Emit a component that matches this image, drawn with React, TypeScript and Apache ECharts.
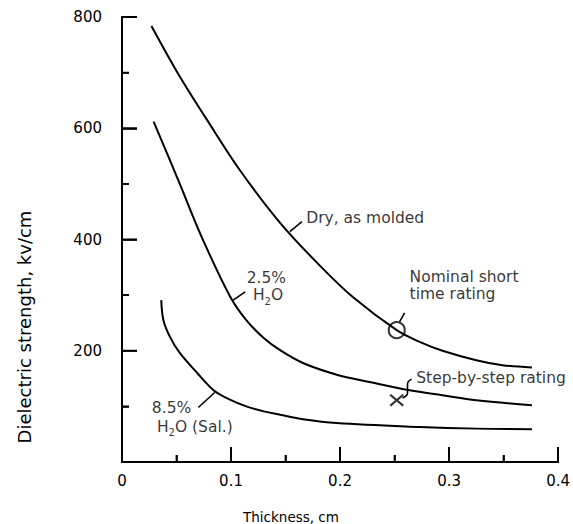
import React, { useEffect, useRef } from "react";
import * as echarts from "echarts";

// ---- data (thickness in cm, dielectric strength in kv/cm) ----
const dryX = [0.027, 0.053, 0.078, 0.108, 0.145, 0.181, 0.212, 0.252, 0.273, 0.294, 0.325, 0.349, 0.376];
const dryY = [784, 693, 615, 525, 430, 354, 296, 237, 216, 200, 183, 174, 170];

const h2o25X = [0.029, 0.053, 0.073, 0.099, 0.114, 0.13, 0.145, 0.166, 0.197, 0.227, 0.264, 0.294, 0.325, 0.376];
const h2o25Y = [612, 500, 405, 298, 255, 223, 201, 178, 157, 144, 129, 120, 111, 102];

const h2o85X = [0.036, 0.038, 0.044, 0.053, 0.069, 0.084, 0.099, 0.114, 0.13, 0.145, 0.166, 0.197, 0.273, 0.325, 0.376];
const h2o85Y = [291, 255, 225, 196, 160, 129, 112, 100, 91, 85, 77, 70, 63, 60, 59];

const nominalPoint = [0.252, 237];
const stepPoint = [0.252, 111];

const xMin = 0, xMax = 0.4, xStep = 0.1;
const yMin = 0, yMax = 800, yStep = 200;
const xTicks = [0, 0.05, 0.1, 0.15, 0.2, 0.25, 0.3, 0.35, 0.4];
const yTicks = [0, 100, 200, 300, 400, 500, 600, 700, 800];

// annotation texts anchored (left, middle) at data coordinates
const annotationTexts = [
  "Dry, as molded",
  "2.5%",
  "H{s|2}O",
  "8.5%",
  "H{s|2}O (Sal.)",
  "Nominal short",
  "time rating",
  "Step-by-step rating",
];
const annotationX = [0.169, 0.1144, 0.1201, 0.0274, 0.032, 0.2638, 0.2638, 0.2699];
const annotationY = [439, 331, 300, 97, 63, 333, 302, 151];

// leader lines (data coordinates)
const dryLeader = [[0.154, 414], [0.165, 432]];
const h2o25Leader = [[0.102, 291], [0.113, 306]];
const h2o85Leader = [[0.07, 98], [0.085, 125]];
const nominalLeader = [[0.2546, 252], [0.2592, 268]];
const stepLeader = [[0.2573, 115], [0.2619, 124], [0.2619, 140], [0.2656, 149]];

const FONT = "DejaVu Sans";
const black = "#000";
const W = 573;
const H = 524;
const GRID = { left: 122, right: 14, top: 17, bottom: 62 };

const pairs = (xs: number[], ys: number[]) => xs.map((x, i) => [x, ys[i]]);

export default function App() {
  const ref = useRef<HTMLDivElement>(null);

  useEffect(() => {
    const chart = echarts.init(ref.current!, null, { renderer: "svg" });

    const curve = (name: string, data: number[][]) => ({
      type: "line",
      name,
      data,
      smooth: 0.35,
      symbol: "none",
      lineStyle: { color: black, width: 2 },
      silent: true,
    });
    const leader = (data: number[][], smooth = false) => ({
      type: "line",
      data,
      smooth,
      symbol: "none",
      lineStyle: { color: black, width: 1.6 },
      silent: true,
    });

    // tick lengths (px) expressed in data units of the grid
    const yPerPx = (yMax - yMin) / (H - GRID.top - GRID.bottom);
    const xPerPx = (xMax - xMin) / (W - GRID.left - GRID.right);
    const xAxisPath: number[][] = [];
    xTicks.forEach((v, i) => {
      const len = (i % 2 === 0 ? 15 : 7) * yPerPx;
      xAxisPath.push([v, 0], [v, len], [v, 0]);
    });
    const yAxisPath: number[][] = [];
    yTicks.forEach((v, i) => {
      const len = (i % 2 === 0 ? 15 : 7) * xPerPx;
      yAxisPath.push([0, v], [len, v], [0, v]);
    });
    const axisPathSeries = (data: number[][]) => ({
      type: "line",
      data,
      symbol: "none",
      clip: false,
      silent: true,
      lineStyle: { color: black, width: 1.8, cap: "butt", join: "miter" },
    });

    const rich = {
      s: { fontFamily: FONT, fontSize: 10, color: black, verticalAlign: "bottom", lineHeight: 22 },
    };
    const labelStyle = { color: black, fontFamily: FONT, fontSize: 15 };
    const tickCfg = { show: true, inside: true, length: 15, lineStyle: { color: black, width: 1.6 } };
    const minorCfg = { show: true, splitNumber: 2, length: 7, lineStyle: { color: black, width: 1.6 } };

    chart.setOption({
      animation: false,
      backgroundColor: "#fff",
      grid: GRID,
      xAxis: {
        type: "value",
        min: xMin,
        max: xMax,
        interval: xStep,
        axisLine: { show: true, lineStyle: { color: black, width: 2 } },
        axisTick: tickCfg,
        minorTick: minorCfg,
        splitLine: { show: false },
        minorSplitLine: { show: false },
        axisLabel: { margin: 11, ...labelStyle },
      },
      yAxis: {
        type: "value",
        min: yMin,
        max: yMax,
        interval: yStep,
        axisLine: { show: true, lineStyle: { color: black, width: 2 } },
        axisTick: tickCfg,
        minorTick: minorCfg,
        splitLine: { show: false },
        minorSplitLine: { show: false },
        axisLabel: { margin: 20, showMinLabel: false, ...labelStyle },
      },
      series: [
        axisPathSeries(xAxisPath),
        axisPathSeries(yAxisPath),
        curve("Dry, as molded", pairs(dryX, dryY)),
        curve("2.5% H2O", pairs(h2o25X, h2o25Y)),
        curve("8.5% H2O (Sat.)", pairs(h2o85X, h2o85Y)),
        leader(dryLeader),
        leader(h2o25Leader),
        leader(h2o85Leader),
        leader(nominalLeader),
        leader(stepLeader, true),
        {
          type: "scatter",
          data: [nominalPoint],
          symbol: "circle",
          symbolSize: 16,
          itemStyle: { color: "rgba(0,0,0,0)", borderColor: black, borderWidth: 2 },
          silent: true,
        },
        {
          type: "scatter",
          data: [stepPoint],
          symbol: "path://M0 0L10 10M10 0L0 10",
          symbolSize: [13, 11],
          itemStyle: { color: "none", borderColor: black, borderWidth: 2 },
          silent: true,
        },
        {
          type: "scatter",
          symbolSize: 0,
          silent: true,
          data: annotationTexts.map((t, i) => ({
            value: [annotationX[i], annotationY[i]],
            label: {
              show: true,
              position: "right",
              distance: 0,
              formatter: t,
              color: black,
              fontFamily: FONT,
              fontSize: 15.5,
              lineHeight: 18,
              rich,
            },
          })),
        },
      ],
      graphic: [
        {
          type: "text",
          x: 291,
          y: 517,
          style: {
            text: "Thickness, cm",
            fontFamily: FONT,
            fontSize: 13.5,
            fill: black,
            align: "center",
            verticalAlign: "middle",
          },
        },
        {
          type: "text",
          x: 24,
          y: 327,
          rotation: Math.PI / 2,
          style: {
            text: "Dielectric strength, kv/cm",
            fontFamily: FONT,
            fontSize: 18,
            fill: black,
            align: "center",
            verticalAlign: "middle",
          },
        },
      ],
    });

    return () => chart.dispose();
  }, []);

  return <div ref={ref} style={{ position: "fixed", left: 0, top: 0, width: W, height: H }} />;
}
